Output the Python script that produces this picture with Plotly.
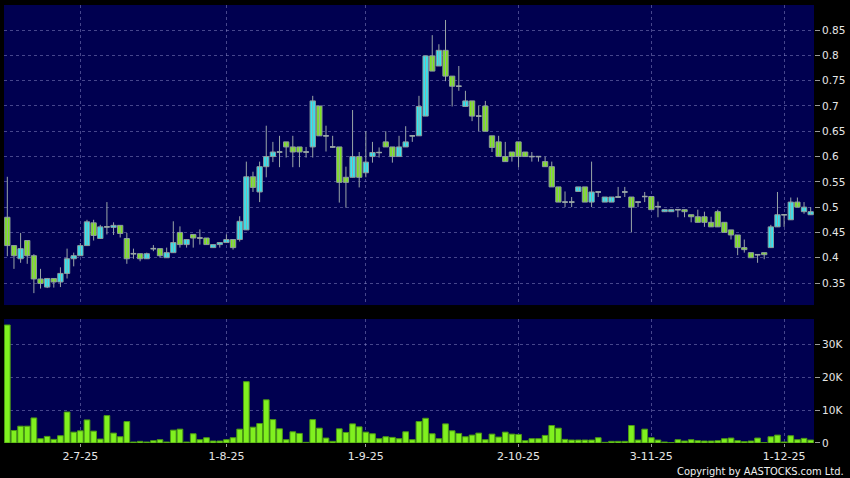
import plotly.graph_objects as go

# daily OHLC (oldest first)
open_ = [0.480, 0.424, 0.398, 0.434, 0.404, 0.358, 0.342, 0.359, 0.352, 0.369,
         0.398, 0.404, 0.424, 0.469, 0.438, 0.461, 0.460, 0.464, 0.438, 0.408,
         0.408, 0.398, 0.418, 0.418, 0.400, 0.410, 0.450, 0.426, 0.446, 0.439,
         0.439, 0.420, 0.426, 0.430, 0.436, 0.436, 0.455, 0.560, 0.530, 0.580,
         0.600, 0.609, 0.629, 0.619, 0.619, 0.609, 0.619, 0.700, 0.641, 0.619,
         0.619, 0.559, 0.559, 0.600, 0.568, 0.600, 0.608, 0.629, 0.619, 0.600,
         0.619, 0.641, 0.641, 0.680, 0.799, 0.779, 0.810, 0.759, 0.739, 0.699,
         0.710, 0.680, 0.700, 0.641, 0.629, 0.600, 0.609, 0.629, 0.609, 0.600,
         0.600, 0.590, 0.580, 0.540, 0.510, 0.510, 0.531, 0.540, 0.510, 0.530,
         0.510, 0.510, 0.520, 0.530, 0.520, 0.510, 0.521, 0.521, 0.501, 0.491,
         0.491, 0.495, 0.495, 0.485, 0.481, 0.481, 0.470, 0.491, 0.470, 0.455,
         0.445, 0.420, 0.410, 0.406, 0.410, 0.420, 0.461, 0.485, 0.475, 0.510,
         0.491, 0.485]
high = [0.560, 0.425, 0.449, 0.434, 0.407, 0.378, 0.360, 0.359, 0.381, 0.418,
        0.410, 0.429, 0.475, 0.475, 0.465, 0.510, 0.470, 0.464, 0.449, 0.418,
        0.408, 0.410, 0.425, 0.418, 0.420, 0.472, 0.462, 0.436, 0.446, 0.456,
        0.439, 0.426, 0.430, 0.446, 0.436, 0.482, 0.590, 0.570, 0.590, 0.661,
        0.629, 0.641, 0.629, 0.641, 0.619, 0.619, 0.720, 0.700, 0.661, 0.641,
        0.619, 0.580, 0.692, 0.609, 0.650, 0.629, 0.618, 0.650, 0.619, 0.641,
        0.660, 0.641, 0.720, 0.799, 0.840, 0.822, 0.870, 0.759, 0.779, 0.730,
        0.710, 0.700, 0.710, 0.641, 0.641, 0.629, 0.609, 0.629, 0.609, 0.609,
        0.600, 0.600, 0.590, 0.540, 0.531, 0.520, 0.540, 0.540, 0.590, 0.530,
        0.520, 0.520, 0.540, 0.540, 0.520, 0.510, 0.530, 0.521, 0.511, 0.495,
        0.495, 0.495, 0.495, 0.485, 0.495, 0.491, 0.481, 0.495, 0.470, 0.455,
        0.445, 0.436, 0.410, 0.406, 0.410, 0.465, 0.530, 0.485, 0.519, 0.519,
        0.510, 0.500]
low = [0.403, 0.378, 0.390, 0.388, 0.330, 0.339, 0.340, 0.341, 0.342, 0.359,
       0.383, 0.404, 0.424, 0.434, 0.438, 0.446, 0.445, 0.440, 0.388, 0.398,
       0.393, 0.398, 0.413, 0.400, 0.400, 0.410, 0.420, 0.420, 0.420, 0.426,
       0.426, 0.420, 0.420, 0.430, 0.416, 0.432, 0.455, 0.530, 0.510, 0.559,
       0.589, 0.579, 0.598, 0.579, 0.579, 0.598, 0.598, 0.641, 0.610, 0.617,
       0.509, 0.499, 0.559, 0.539, 0.559, 0.588, 0.598, 0.619, 0.588, 0.600,
       0.619, 0.629, 0.641, 0.680, 0.769, 0.779, 0.749, 0.699, 0.730, 0.699,
       0.670, 0.650, 0.650, 0.609, 0.600, 0.590, 0.590, 0.579, 0.600, 0.590,
       0.590, 0.580, 0.540, 0.510, 0.500, 0.500, 0.531, 0.510, 0.500, 0.520,
       0.510, 0.510, 0.520, 0.520, 0.450, 0.500, 0.510, 0.495, 0.480, 0.491,
       0.491, 0.480, 0.480, 0.470, 0.470, 0.461, 0.461, 0.461, 0.450, 0.436,
       0.405, 0.410, 0.400, 0.390, 0.397, 0.420, 0.461, 0.461, 0.475, 0.500,
       0.487, 0.485]
close = [0.424, 0.404, 0.418, 0.404, 0.358, 0.349, 0.359, 0.352, 0.369, 0.398,
         0.404, 0.424, 0.471, 0.444, 0.461, 0.461, 0.464, 0.448, 0.398, 0.408,
         0.398, 0.408, 0.418, 0.404, 0.410, 0.430, 0.426, 0.436, 0.439, 0.439,
         0.426, 0.426, 0.430, 0.436, 0.420, 0.472, 0.560, 0.539, 0.580, 0.600,
         0.609, 0.609, 0.619, 0.609, 0.609, 0.609, 0.710, 0.641, 0.641, 0.619,
         0.549, 0.549, 0.600, 0.559, 0.589, 0.608, 0.608, 0.619, 0.600, 0.619,
         0.629, 0.641, 0.699, 0.799, 0.769, 0.810, 0.759, 0.739, 0.739, 0.710,
         0.680, 0.680, 0.650, 0.618, 0.600, 0.590, 0.600, 0.600, 0.600, 0.600,
         0.600, 0.580, 0.540, 0.510, 0.510, 0.510, 0.540, 0.510, 0.530, 0.530,
         0.520, 0.520, 0.520, 0.530, 0.500, 0.510, 0.521, 0.495, 0.501, 0.495,
         0.495, 0.495, 0.491, 0.481, 0.470, 0.470, 0.461, 0.461, 0.450, 0.445,
         0.420, 0.416, 0.400, 0.406, 0.406, 0.461, 0.485, 0.485, 0.510, 0.500,
         0.500, 0.491]
volume = [35800, 3800, 5100, 5100, 7600, 1300, 2000, 1100, 2200, 9400,
          3300, 3700, 7000, 3600, 1200, 8300, 3000, 1900, 6500, 300,
          500, 300, 700, 1000, 300, 3900, 4200, 300, 2800, 1000,
          1600, 600, 600, 1000, 1600, 4200, 18600, 4800, 5900, 13100,
          7100, 4300, 1000, 3400, 2900, 200, 7100, 4500, 1500, 500,
          4300, 3200, 5800, 4900, 3300, 2800, 1300, 1900, 1700, 1300,
          3400, 1000, 6500, 7500, 2800, 1300, 5800, 3700, 2900, 1900,
          2400, 3000, 1000, 2700, 1800, 3300, 2700, 2600, 700, 1300,
          1300, 2300, 5300, 4500, 1100, 900, 900, 900, 900, 1600,
          200, 500, 500, 500, 5300, 900, 4200, 1600, 900, 300,
          100, 1000, 600, 1000, 700, 600, 600, 700, 1300, 1500,
          700, 400, 600, 1500, 100, 1900, 2400, 300, 2200, 1000,
          1400, 900]

tick_idx = [11, 33, 54, 77, 97, 117]
tick_text = ["2-7-25", "1-8-25", "1-9-25", "2-10-25", "3-11-25", "1-12-25"]
price_ticks = [0.35, 0.4, 0.45, 0.5, 0.55, 0.6, 0.65, 0.7, 0.75, 0.8, 0.85]
price_text = ["0.35", "0.4", "0.45", "0.5", "0.55", "0.6", "0.65", "0.7", "0.75", "0.8", "0.85"]
vol_ticks = [0, 10000, 20000, 30000]
vol_text = ["0", "10K", "20K", "30K"]

x = list(range(len(close)))

GRID = "rgba(140,140,200,0.5)"
CYAN = "#2ee6f2"
GREEN = "#7de31d"
EDGE = "#8c9c9c"
BODY_W = 0.8

# wicks: one vertical segment per day from low to high
wick_x, wick_y = [], []
for i in x:
    wick_x += [i, i, None]
    wick_y += [low[i], high[i], None]

# days where open == close get a flat tick instead of a body
doji_x, doji_y = [], []
for i in x:
    if open_[i] == close[i]:
        doji_x += [i - BODY_W / 2, i + BODY_W / 2, None]
        doji_y += [open_[i], open_[i], None]

fig = go.Figure()
fig.add_trace(go.Scatter(
    x=wick_x, y=wick_y, mode="lines", xaxis="x", yaxis="y",
    line=dict(color="#9aa6a6", width=1), hoverinfo="skip",
))
fig.add_trace(go.Bar(
    x=x, y=[abs(c - o) for o, c in zip(open_, close)],
    base=[min(o, c) for o, c in zip(open_, close)],
    width=BODY_W, xaxis="x", yaxis="y",
    marker=dict(color=[CYAN if c > o else GREEN for o, c in zip(open_, close)],
                line=dict(color=EDGE, width=1)),
    hoverinfo="skip",
))
fig.add_trace(go.Scatter(
    x=doji_x, y=doji_y, mode="lines", xaxis="x", yaxis="y",
    line=dict(color="#9aa6a6", width=1.5), hoverinfo="skip",
))
fig.add_trace(go.Bar(
    x=x, y=volume, xaxis="x2", yaxis="y2", width=0.86,
    marker=dict(color="#80f01f", line=dict(color="#4b9a14", width=1)),
    hoverinfo="skip",
))

axis_font = dict(family="DejaVu Sans", size=10, color="#e6e6e6")
fig.update_layout(
    width=850, height=478,
    paper_bgcolor="black", plot_bgcolor="#000050",
    margin=dict(l=4, r=36, t=5, b=35),
    showlegend=False, barmode="overlay",
    font=axis_font,
    xaxis=dict(
        domain=[0, 1], anchor="y", range=[-0.5, 121.5],
        tickvals=tick_idx, showticklabels=False, ticks="",
        showgrid=True, gridcolor=GRID, griddash="3px,3px", gridwidth=1,
        zeroline=False,
    ),
    xaxis2=dict(
        domain=[0, 1], anchor="y2", matches="x",
        tickvals=tick_idx, ticktext=tick_text,
        ticks="outside", ticklen=3, tickcolor="#9a9a9a",
        tickfont=dict(family="DejaVu Sans", size=11, color="#e6e6e6"),
        showgrid=True, gridcolor=GRID, griddash="3px,3px", gridwidth=1,
        zeroline=False,
    ),
    yaxis=dict(
        domain=[0.315, 1], side="right", range=[0.3065, 0.8996],
        tickvals=price_ticks, ticktext=price_text,
        ticks="outside", ticklen=5, tickcolor="#9a9a9a",
        tickfont=dict(family="DejaVu Sans", size=10.5, color="#e6e6e6"),
        showgrid=True, gridcolor=GRID, griddash="3px,3px", zeroline=False,
    ),
    yaxis2=dict(
        domain=[0, 0.283], anchor="x2", side="right", range=[0, 37600],
        tickvals=vol_ticks, ticktext=vol_text,
        ticks="outside", ticklen=5, tickcolor="#9a9a9a",
        tickfont=dict(family="DejaVu Sans", size=10.5, color="#e6e6e6"),
        showgrid=True, gridcolor=GRID, griddash="3px,3px", zeroline=False,
    ),
    annotations=[dict(
        text="Copyright by AASTOCKS.com Ltd.", xref="paper", yref="paper",
        x=1.039, y=-0.064, xanchor="right", yanchor="middle", showarrow=False,
        font=dict(family="DejaVu Sans Condensed, Liberation Sans Narrow, Liberation Sans", size=11, color="#f0f0f0"),
    )],
)

# the page's default body margin would push the fixed-size figure off the window
fig.write_html("out.html", config={"displayModeBar": False},
               post_script="document.body.style.margin='0';")
